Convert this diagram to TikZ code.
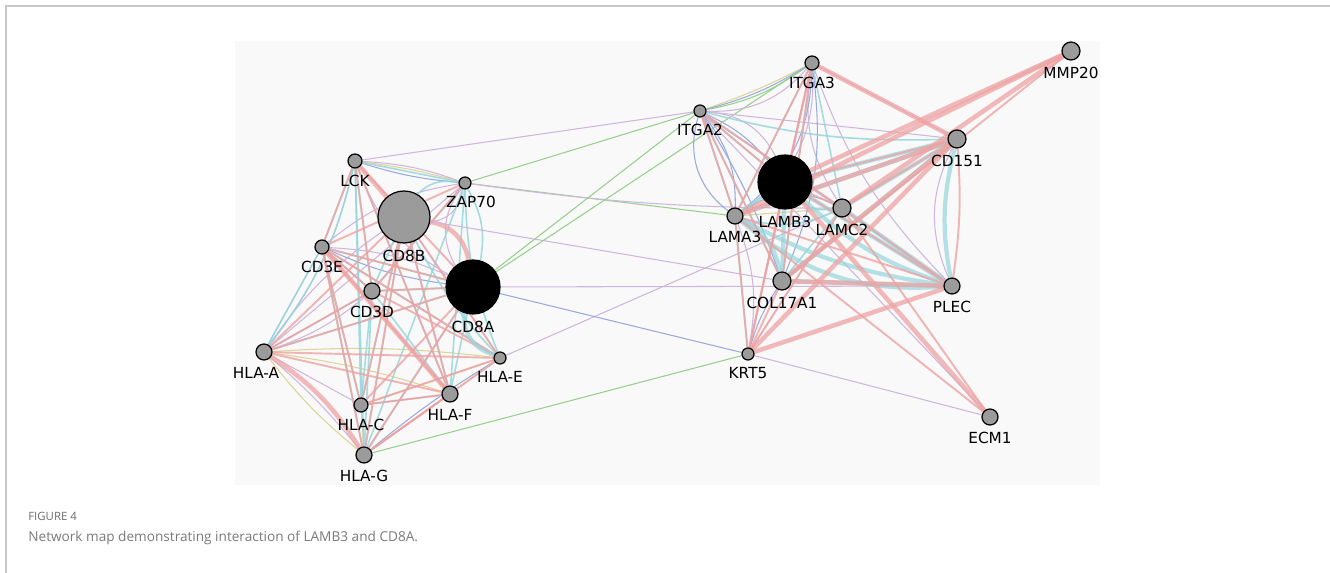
\documentclass[tikz,border=0pt]{standalone}
\usepackage{fontspec}
\usepackage{xcolor}
\usetikzlibrary{backgrounds}
\newfontfamily\genefont{DejaVu Sans}
\newfontfamily\capfont{Open Sans}
\definecolor{net-pink}{RGB}{238,163,163}
\definecolor{net-cyan}{RGB}{150,214,220}
\definecolor{net-purple}{RGB}{208,182,222}
\definecolor{net-blue}{RGB}{152,170,222}
\definecolor{net-green}{RGB}{150,208,140}
\definecolor{net-yellow}{RGB}{222,212,150}
\definecolor{net-node}{RGB}{155,155,155}
\definecolor{net-panel}{RGB}{249,249,249}
\definecolor{cap-gray}{RGB}{110,110,110}
\pgfdeclarelayer{edges}
\pgfsetlayers{background,edges,main}

\begin{document}
\begin{tikzpicture}[x=0.02cm, y=-0.02cm,
  gene/.style={circle, draw=black, fill=net-node, line width=0.7pt, inner sep=0pt, minimum size=#1*0.02cm},
  hub/.style={gene=#1, fill=black},
  every label/.style={font=\genefont\fontsize{8.7}{10}\selectfont, inner sep=0pt},
  label distance=3.5pt,
  pp/.style={draw=net-pink, line width=1.1pt, opacity=.8},
  ppw/.style={draw=net-pink, line width=2.6pt, opacity=.75},
  cy/.style={draw=net-cyan, line width=0.9pt, opacity=.85},
  cyw/.style={draw=net-cyan, line width=2.4pt, opacity=.7},
  co/.style={draw=net-purple, line width=0.6pt},
  cl/.style={draw=net-blue, line width=0.6pt},
  gi/.style={draw=net-green, line width=0.6pt},
  dm/.style={draw=net-yellow, line width=0.6pt},
]
  \useasboundingbox (0,0) rectangle (1330,573);
  \begin{scope}[on background layer]
    \fill[white] (0,0) rectangle (1330,573);
    \draw[line width=0.6pt, black!22] (6,573) -- (6,6) -- (1330,6);
    \fill[net-panel] (235,41) rectangle (1100,485);
  \end{scope}

  % T cell side
  \node[gene=14, label=below:LCK] (lck) at (355,161) {};
  \node[gene=12, label={[xshift=0.12cm]below:ZAP70}] (zap70) at (465,183) {};
  \node[gene=52, label=below:CD8B] (cd8b) at (404,217) {};
  \node[gene=14, label=below:CD3E] (cd3e) at (322,247) {};
  \node[gene=16, label=below:CD3D] (cd3d) at (372,291) {};
  \node[hub=54, label=below:CD8A] (cd8a) at (473,287) {};
  \node[gene=16, label={[xshift=-0.16cm]below:HLA-A}] (hlaa) at (264,352) {};
  \node[gene=12, label=below:HLA-E] (hlae) at (500,358) {};
  \node[gene=16, label=below:HLA-F] (hlaf) at (450,394) {};
  \node[gene=14, label=below:HLA-C] (hlac) at (361,405) {};
  \node[gene=16, label=below:HLA-G] (hlag) at (364,455) {};

  % laminin side
  \node[gene=12, label=below:ITGA2] (itga2) at (700,111) {};
  \node[gene=14, label=below:ITGA3] (itga3) at (812,63) {};
  \node[gene=18, label=below:MMP20] (mmp20) at (1071,51) {};
  \node[gene=18, label=below:CD151] (cd151) at (957,139) {};
  \node[hub=54, label=below:LAMB3] (lamb3) at (785,182) {};
  \node[gene=16, label=below:LAMA3] (lama3) at (735,216) {};
  \node[gene=18, label=below:LAMC2] (lamc2) at (842,208) {};
  \node[gene=18, label=below:COL17A1] (col17) at (782,281) {};
  \node[gene=16, label=below:PLEC] (plec) at (952,286) {};
  \node[gene=12, label=below:KRT5] (krt5) at (748,354) {};
  \node[gene=16, label=below:ECM1] (ecm1) at (990,417) {};

  \begin{pgfonlayer}{edges}
    % left cluster
    \foreach \ga/\gb/\ty/\bd in {
      hlaa/lck/co/-12, hlaa/zap70/co/0, hlaa/cd3e/co/0, hlaa/hlac/co/0, hlaa/hlag/co/5,
      cd3e/zap70/co/15, zap70/cd8a/co/-35, cd8b/hlae/co/0, hlac/hlae/co/0, lck/cd8a/co/-20,
      cd3e/cd8a/co/10, lck/zap70/co/8, hlaa/cd8b/co/10, cd8b/zap70/co/-40, hlaa/cd3d/co/-10,
      hlaa/hlae/dm/5, hlaa/hlaf/dm/5, hlac/hlae/dm/0, hlag/hlae/dm/0, hlaa/hlag/dm/-6,
      hlac/hlag/dm/0, lck/zap70/dm/4,
      hlag/hlaf/cl/0, hlag/hlae/cl/4, cd3e/cd3d/cl/0, lck/zap70/cl/-6, hlaa/cd3d/cl/0, hlac/hlaf/cl/0,
      cd3e/cd8a/cl/-8,
      lck/zap70/cy/0, lck/cd3d/cy/0, lck/hlaf/cy/0, lck/hlac/cy/0, lck/hlag/cy/0,
      zap70/cd3d/cy/0, zap70/hlaf/cy/0, zap70/hlag/cy/0, cd8b/cd3d/cy/0, cd8b/hlag/cy/0,
      cd8b/hlae/cy/-8, cd3e/cd8a/cy/0, cd3e/hlae/cy/0, cd3d/cd8a/cy/0, cd3d/hlaf/cy/0,
      cd8a/hlaf/cy/0, cd8a/hlag/cy/0, hlaa/cd3e/cy/0, cd3e/hlag/cy/0, zap70/cd8a/cy/20,
      hlaa/cd8a/cy/0, cd8b/hlaf/cy/0, cd8b/hlac/cy/0, lck/hlaa/cy/12, cd3d/hlag/cy/0,
      cd3d/hlac/cy/0, zap70/hlae/cy/-10, zap70/cd8b/cy/-30, lck/cd3e/cy/0, cd3e/hlac/cy/0,
      lck/cd8a/pp/0, lck/cd3d/pp/0, lck/hlaf/pp/0, lck/cd3e/pp/0, cd3e/cd8a/pp/0,
      cd3e/hlaf/pp/0, cd3e/hlae/pp/0, cd3d/cd8a/pp/0, cd3d/hlae/pp/0, hlaa/cd8a/pp/0,
      hlaa/cd8b/pp/0, hlaa/hlae/pp/0, hlaa/hlaf/pp/0, hlac/cd8a/pp/0, hlac/cd8b/pp/0,
      hlag/cd8a/pp/0, hlag/cd8b/pp/0, hlag/hlae/pp/0, hlaf/cd8b/pp/0, hlae/cd8b/pp/0,
      hlac/hlae/pp/0, hlag/hlaf/pp/0, zap70/cd3e/pp/0, zap70/cd3d/pp/0, hlac/cd3e/pp/0,
      hlag/cd3e/pp/0, cd3e/cd3d/pp/0, hlaa/cd3d/pp/0, hlac/hlaf/pp/0,
      cd8b/cd8a/ppw/35, hlaa/hlag/ppw/12, cd3e/hlaf/ppw/0, lck/cd8b/ppw/0, cd8a/hlae/cyw/-40}
      \draw[\ty, bend left=\bd] (\ga) to (\gb);

    % between the clusters
    \foreach \ga/\gb/\ty/\bd in {
      lck/itga2/co/0, zap70/itga2/gi/0, zap70/lama3/gi/0, zap70/lamc2/co/-4,
      cd8b/col17/co/0, cd8a/plec/co/0, hlae/lamc2/co/0, cd8a/krt5/cl/0,
      hlag/krt5/gi/0, cd8a/itga2/gi/0, cd8a/itga3/gi/0, krt5/ecm1/co/0}
      \draw[\ty, bend left=\bd] (\ga) to (\gb);

    % right cluster
    \foreach \ga/\gb/\ty/\bd in {
      itga2/itga3/co/-25, itga3/cd151/co/0, itga3/plec/co/-12, itga2/cd151/co/0,
      itga2/plec/co/0, cd151/plec/co/-25, lama3/krt5/co/15, krt5/lamc2/co/0,
      itga3/lamc2/co/-20, itga2/lamb3/co/30, lama3/itga3/co/-30, itga2/ecm1/co/0,
      itga2/itga3/gi/-12, itga2/itga3/dm/-4, lama3/lamc2/dm/0,
      itga2/lama3/cl/20, itga2/lamb3/cl/12, itga3/lama3/cl/25, itga3/lamb3/cl/0,
      itga2/col17/cl/6, krt5/col17/cl/8, krt5/lamb3/cl/0, lama3/lamc2/cl/30, itga2/itga3/cl/-8,
      itga2/lama3/cl/-35, itga3/col17/cl/15,
      itga3/lamc2/cy/0, itga2/lamb3/cy/0, itga2/lamc2/cy/0, itga3/lama3/cy/0,
      itga3/col17/cy/0, itga2/lama3/cy/0, itga2/col17/cy/0, lama3/krt5/cy/0,
      lamb3/lamc2/cy/-25, lama3/lamc2/cy/-20, lamc2/col17/cy/0, itga2/cd151/cy/-8,
      lamb3/plec/cyw/0, lama3/plec/cyw/-10, lamc2/plec/cyw/0, lamb3/cd151/cyw/0,
      lama3/cd151/cyw/0, col17/cd151/cyw/0, lamc2/cd151/cyw/0, lama3/col17/cyw/25,
      lamb3/col17/cyw/0, cd151/plec/cyw/-12, col17/plec/cyw/0, lama3/lamb3/cyw/0,
      lamb3/plec/cyw/-12, lama3/plec/cyw/-22,
      itga2/lama3/pp/0, itga2/lamb3/pp/0, itga2/col17/pp/0, itga3/lama3/pp/0,
      itga3/col17/pp/0, itga3/krt5/pp/0, lamb3/krt5/pp/0, lama3/krt5/pp/0,
      lamc2/krt5/pp/0, col17/krt5/pp/0, cd151/plec/pp/6, lamc2/plec/pp/0,
      lama3/plec/pp/0, cd151/lamc2/pp/0, cd151/lamb3/pp/0, lama3/ecm1/pp/0,
      lamc2/ecm1/pp/0, itga3/lamb3/pp/0, lamb3/lamc2/pp/0, itga2/lamc2/pp/0,
      itga3/cd151/ppw/0, lamb3/mmp20/ppw/0, lamc2/mmp20/ppw/0, lama3/mmp20/ppw/0,
      col17/mmp20/pp/0, col17/plec/ppw/0, krt5/plec/ppw/0, lamb3/ecm1/ppw/0,
      cd151/krt5/ppw/0, cd151/col17/ppw/0, lama3/cd151/ppw/0, lamb3/plec/pp/0}
      \draw[\ty, bend left=\bd] (\ga) to (\gb);
  \end{pgfonlayer}

  \node[anchor=west, inner sep=0pt, text=cap-gray, font=\capfont\fontsize{6.5}{8}\selectfont] (figno) at (28,516) {FIGURE 4};
  \node[anchor=west, inner sep=0pt, text=black!52, font=\capfont\fontsize{7.75}{10}\selectfont] (figcap) at (28,538) {Network map demonstrating interaction of LAMB3 and CD8A.};
\end{tikzpicture}
\end{document}
